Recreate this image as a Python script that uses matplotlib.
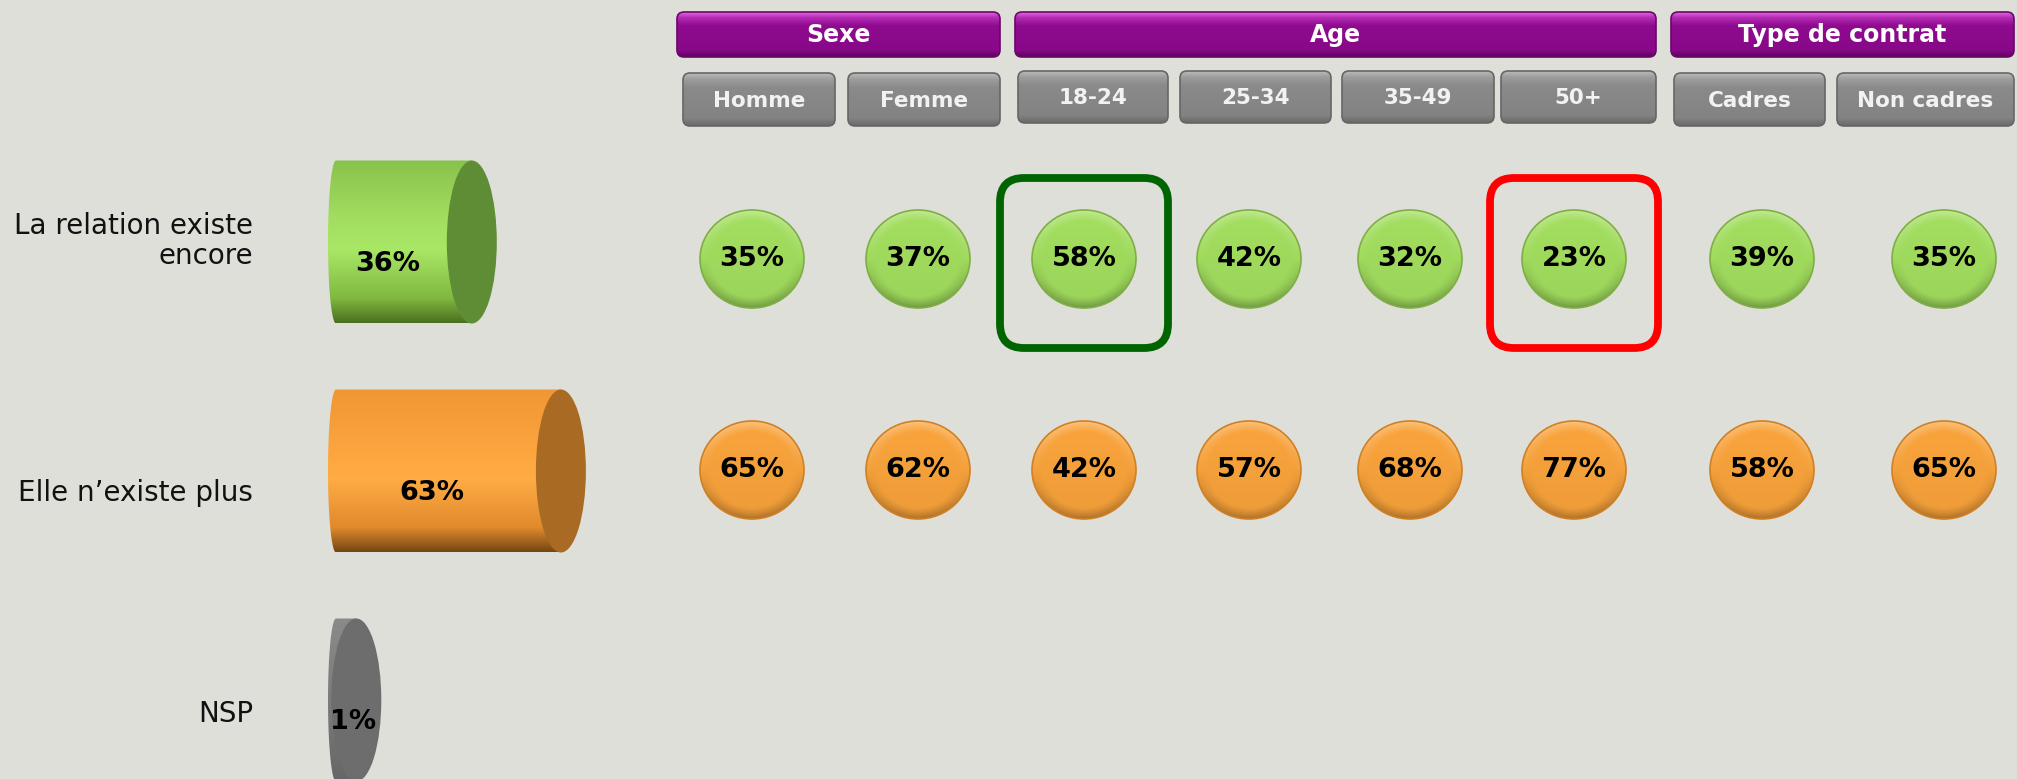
import numpy as np
import matplotlib
matplotlib.use("Agg")
import matplotlib.pyplot as plt
from matplotlib.patches import FancyBboxPatch, PathPatch, Ellipse
from matplotlib.path import Path
from matplotlib.colors import LinearSegmentedColormap, to_rgb

# ---------------- data ----------------
row_labels = ["La relation existe\nencore", "Elle n\u2019existe plus", "NSP"]
total_values = [36, 63, 1]
group_labels = ["Sexe", "Age", "Type de contrat"]
sub_labels = ["Homme", "Femme", "18-24", "25-34", "35-49", "50+", "Cadres", "Non cadres"]
existe_values = [35, 37, 58, 42, 32, 23, 39, 35]
plus_values = [65, 62, 42, 57, 68, 77, 58, 65]
best_col = "18-24"
worst_col = "50+"

# ---------------- layout / style ----------------
W, H = 2017, 779
BG = "#dfdfda"
group_spans = [(677, 1000), (1015, 1656), (1671, 2014)]
button_spans = [(683, 835), (848, 1000), (1018, 1168), (1180, 1331),
                (1342, 1494), (1501, 1656), (1674, 1825), (1837, 2014)]
col_centers = [752, 918, 1084, 1249, 1410, 1574, 1762, 1944]
bubble_rows_y = [259, 470]
bubble_rx, bubble_ry = 52, 49
label_y = [241, 493, 714]

fig = plt.figure(figsize=(W / 100, H / 100), dpi=100, facecolor=BG)
ax = fig.add_axes([0, 0, 1, 1])
ax.set_facecolor(BG)
ax.set_xlim(0, W)
ax.set_ylim(H, 0)
ax.axis("off")


def vgrad(axis, patch, x0, x1, y0, y1, stops, zorder):
    cmap = LinearSegmentedColormap.from_list("g", stops)
    arr = np.linspace(0, 1, 256).reshape(-1, 1)
    im = axis.imshow(arr, cmap=cmap, vmin=0, vmax=1, extent=(x0, x1, y1, y0),
                     origin="upper", aspect="auto", zorder=zorder,
                     interpolation="bilinear")
    im.set_clip_path(patch)
    return im


def button(x0, x1, y0, y1, stops, edge, text, fs, tcolor, ty_off=0):
    p = FancyBboxPatch((x0, y0), x1 - x0, y1 - y0,
                       boxstyle="round,pad=0,rounding_size=7",
                       fc="none", ec=edge, lw=1.2, zorder=3)
    ax.add_patch(p)
    vgrad(ax, p, x0, x1, y0, y1, stops, 2)
    ax.text((x0 + x1) / 2, (y0 + y1) / 2 + ty_off, text, ha="center", va="center",
            fontsize=fs, fontweight="bold", color=tcolor, family="DejaVu Sans",
            zorder=4)


purple_stops = [(0, "#e26ae2"), (0.12, "#b42cb4"), (0.3, "#8f0b8f"),
                (0.85, "#880888"), (1, "#5a045a")]
gray_stops = [(0, "#bcbcbc"), (0.12, "#9c9c9c"), (0.28, "#8a8a8a"),
              (0.85, "#838383"), (1, "#686868")]

for (x0, x1), g in zip(group_spans, group_labels):
    button(x0, x1, 12, 57, purple_stops, "#6a066a", g, 17, "white")

for i, ((x0, x1), s) in enumerate(zip(button_spans, sub_labels)):
    y0, y1 = (71, 123) if 2 <= i <= 5 else (73, 126)
    button(x0, x1, y0, y1, gray_stops, "#666666", s, 15.5, "#f2f2f2", ty_off=1)


def bubble(cx, cy, main, rim, text):
    n = 220
    xs = np.linspace(-1, 1, n)
    X, Y = np.meshgrid(xs, xs)
    t = np.sqrt(X ** 2 + Y ** 2)
    m = np.array(to_rgb(main))
    edge = np.clip((t - 0.78) / 0.22, 0, 1)
    s = edge * (-Y)          # + on top (lighten), - on bottom (darken)
    img = np.repeat(m[None, None, :], n, 0).repeat(n, 1)
    light = np.clip(s, 0, 1)[..., None]
    dark = np.clip(-s, 0, 1)[..., None]
    img = img + light * 0.35 * (1 - img)
    img = img * (1 - dark * 0.28)
    img = img * (1 - 0.05 * (Y[..., None] + 1) / 2)
    img = np.clip(img, 0, 1)
    im = ax.imshow(img, extent=(cx - bubble_rx, cx + bubble_rx, cy + bubble_ry, cy - bubble_ry),
                   origin="upper", aspect="auto", zorder=5, interpolation="bilinear")
    c = Ellipse((cx, cy), 2 * bubble_rx, 2 * bubble_ry, fc="none", ec=rim, lw=1.2, zorder=6)
    ax.add_patch(c)
    im.set_clip_path(c)
    ax.text(cx, cy, text, ha="center", va="center", fontsize=19.5,
            fontweight="bold", color="black", zorder=7)


bubble_styles = [("#a3df5f", "#7fae44"), ("#faa43c", "#d08024")]
for ri, vals in enumerate([existe_values, plus_values]):
    main, rim = bubble_styles[ri]
    for cx, v in zip(col_centers, vals):
        bubble(cx, bubble_rows_y[ri], main, rim, f"{v}%")

# highlight boxes
for name, color in [(best_col, "#006400"), (worst_col, "#ff0000")]:
    cx = col_centers[sub_labels.index(name)]
    hb = FancyBboxPatch((cx - 84, 178), 168, 170,
                        boxstyle="round,pad=0,rounding_size=24",
                        fc="none", ec=color, lw=5.6, zorder=8)
    ax.add_patch(hb)

# row labels
for lab, y in zip(row_labels, label_y):
    ax.text(253, y, lab, ha="right", va="center", fontsize=20,
            color="#111111", family="DejaVu Sans", linespacing=1.1)

# ---------------- cylinders ----------------
px_per_pct = 3.3
x0_px = 353
row_px0, row_step = 242, 229
ax2 = fig.add_axes([300 / W, 0, 400 / W, 1])
ax2.axis("off")
ax2.patch.set_alpha(0)

e = 25 / px_per_pct          # front ellipse half width in % units
eb = 8 / px_per_pct          # back edge curvature
hh = 163 / row_step / 2      # half height in row units

cyl_styles = [
    dict(stops=[(0, "#88c24c"), (0.35, "#a2dd60"), (0.55, "#a9e766"),
                (0.85, "#80b840"), (1, "#4a7020")], end="#5f8d35"),
    dict(stops=[(0, "#f09634"), (0.4, "#fda640"), (0.55, "#ffac44"),
                (0.85, "#e08a2c"), (1, "#764612")], end="#a96a24"),
    dict(stops=[(0, "#8a8a8a"), (0.5, "#7c7c7c"), (1, "#666666")], end="#6d6d6d"),
]

for i, (v, st) in enumerate(zip(total_values, cyl_styles)):
    yc = i
    xa, xb = 0, v
    xl = xa - e + eb
    th = np.linspace(np.pi / 2, 3 * np.pi / 2, 60)
    left = np.column_stack([xl + eb * np.cos(th), yc - hh * np.sin(th)])
    verts = np.vstack([left, [[xb, yc + hh], [xb, yc - hh], left[0]]])
    codes = [Path.MOVETO] + [Path.LINETO] * (len(verts) - 2) + [Path.CLOSEPOLY]
    body = PathPatch(Path(verts, codes), fc="none", ec="none", zorder=2)
    ax2.add_patch(body)
    vgrad(ax2, body, xa - e, xb, yc - hh, yc + hh, st["stops"], 1)
    end = Ellipse((xb, yc), 2 * e, 2 * hh, fc=st["end"], ec="none", zorder=3)
    ax2.add_patch(end)
    tx = max((xa - e + xb - e) / 2, xa)
    ax2.text(tx, yc + 22 / row_step, f"{v}%", ha="center", va="center",
             fontsize=19.5, fontweight="bold", color="black", zorder=5)

ax2.set_xlim((300 - x0_px) / px_per_pct, (700 - x0_px) / px_per_pct)
ax2.set_ylim((H - row_px0) / row_step, (0 - row_px0) / row_step)
ax.set_xlim(0, W)
ax.set_ylim(H, 0)

fig.savefig("out.png", dpi=100, facecolor=BG)
